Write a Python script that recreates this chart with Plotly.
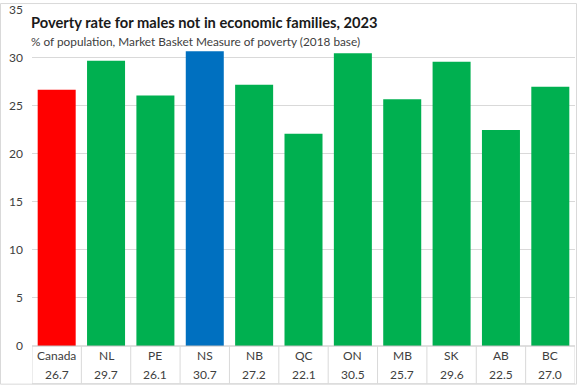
import plotly.graph_objects as go

categories = ["Canada", "NL", "PE", "NS", "NB", "QC", "ON", "MB", "SK", "AB", "BC"]
values = [26.7, 29.7, 26.1, 30.7, 27.2, 22.1, 30.5, 25.7, 29.6, 22.5, 27.0]
colors = ["#FF0000", "#00B050", "#00B050", "#0070C0", "#00B050", "#00B050",
          "#00B050", "#00B050", "#00B050", "#00B050", "#00B050"]
y_ticks = [0, 5, 10, 15, 20, 25, 30, 35]

W, H = 577, 385
L, R, T, B = 32, 2, 6, 39
pw, ph = W - L - R, H - T - B

fig = go.Figure(go.Bar(x=list(range(len(categories))), y=values,
                       marker=dict(color=colors, line=dict(width=0)),
                       hoverinfo="x+y"))

font = "Lato, Open Sans, sans-serif"
fig.update_layout(
    width=W, height=H, margin=dict(l=L, r=R, t=T, b=B),
    paper_bgcolor="white", plot_bgcolor="white",
    bargap=0.23, showlegend=False,
    font=dict(family=font, color="#404040", size=12),
    xaxis=dict(range=[-0.5, len(categories) - 0.5], showticklabels=False,
               showgrid=False, zeroline=False, ticks=""),
    yaxis=dict(range=[0, 35.1], tickvals=y_ticks, showgrid=True,
               gridcolor="#d9d9d9", gridwidth=1, zeroline=False,
               ticks="", ticklabelstandoff=8, ticklabeloverflow="allow",
               tickfont=dict(size=12, color="#404040")),
)

shapes = []
shapes.append(dict(type="line", xref="paper", yref="paper", x0=0, x1=1, y0=0, y1=0,
                   line=dict(color="#bfbfbf", width=1)))
for i in range(len(categories) + 1):
    shapes.append(dict(type="line", xref="x", yref="paper", x0=i - 0.5, x1=i - 0.5,
                       y0=0, y1=-(B - 1) / ph, line=dict(color="#d9d9d9", width=1)))
shapes.append(dict(type="line", xref="paper", yref="paper", x0=0, x1=1,
                   y0=-(B - 1) / ph, y1=-(B - 1) / ph, line=dict(color="#d9d9d9", width=1)))
shapes.append(dict(type="rect", xref="paper", yref="paper",
                   x0=-(L - 0.5) / pw, x1=1 + (R - 0.5) / pw,
                   y0=-(B - 0.5) / ph, y1=1 + (T - 0.5) / ph,
                   line=dict(color="#d9d9d9", width=1), fillcolor="rgba(0,0,0,0)"))

annotations = []
for i, (c, v) in enumerate(zip(categories, values)):
    annotations.append(dict(x=i, y=-10 / ph, xref="x", yref="paper", text=c,
                            showarrow=False, yanchor="middle",
                            font=dict(size=12, color="#404040", family=font)))
    annotations.append(dict(x=i, y=-29 / ph, xref="x", yref="paper", text=f"{v:.1f}",
                            showarrow=False, yanchor="middle",
                            font=dict(size=12, color="#404040", family=font)))

annotations.append(dict(x=-3 / pw, y=1 - 13 / ph, xref="paper", yref="paper", xanchor="left",
                        yanchor="middle", showarrow=False,
                        text="<b>Poverty rate for males not in economic families, 2023</b>",
                        font=dict(size=14.7, color="#1a1a1a", family=font)))
annotations.append(dict(x=-3 / pw, y=1 - 33 / ph, xref="paper", yref="paper", xanchor="left",
                        yanchor="middle", showarrow=False,
                        text="% of population, Market Basket Measure of poverty (2018 base)",
                        font=dict(size=11.8, color="#404040", family=font)))

fig.update_layout(shapes=shapes, annotations=annotations)
fig.write_html("out.html", config={"displayModeBar": False})

with open("out.html", "r", encoding="utf-8") as f:
    html = f.read()
html = html.replace("<head>", "<head><style>html,body{margin:0;padding:0;overflow:hidden;}</style>", 1)
with open("out.html", "w", encoding="utf-8") as f:
    f.write(html)
